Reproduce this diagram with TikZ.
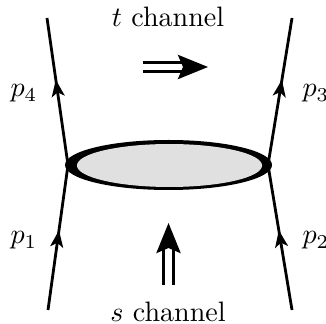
\documentclass[tikz,border=0pt]{standalone}
\usepackage{amsmath}
\usepackage{tikz}
\usetikzlibrary{arrows.meta,shapes.geometric,decorations.markings}
\definecolor{blobgray}{HTML}{E0E0E0}

\begin{document}
\begin{tikzpicture}[x=0.356pt,y=-0.356pt,
  leg/.style={line width=1pt,postaction={decorate},
    decoration={markings,mark=at position #1 with {\arrow{Stealth[length=6pt,width=4.6pt,inset=1.5pt]}}}},
  blob/.style={ellipse,fill=black,inner sep=0pt,minimum width=73.7pt,minimum height=17.8pt},
  core/.style={ellipse,fill=blobgray,inner sep=0pt,minimum width=65.9pt,minimum height=15.3pt},
  chan/.style={line width=1pt,double,double distance=2.4pt,-{Stealth[length=10.7pt,width=8.6pt,inset=1.8pt]}},
  mom/.style={inner sep=0pt}]
\useasboundingbox (0,0) rectangle (326,324);
% external legs
\coordinate (a1) at (48,310);
\coordinate (a2) at (292,310);
\coordinate (a3) at (292,18);
\coordinate (a4) at (47,18);
\coordinate (v1) at (68,165);
\coordinate (v2) at (268,165);
\draw[leg=0.55] (a1) -- (v1);
\draw[leg=0.58] (v1) -- (a4);
\draw[leg=0.55] (a2) -- (v2);
\draw[leg=0.58] (v2) -- (a3);
% amplitude
\node[blob] (amp)   at (168.5,165)   {};
\node[core] (ampin) at (169.5,165.5) {};
% momenta
\node[mom,anchor=base west] (p1) at (10,244)  {$p_1$};
\node[mom,anchor=base west] (p2) at (302,244) {$p_2$};
\node[mom,anchor=base west] (p3) at (302,97)  {$p_3$};
\node[mom,anchor=base west] (p4) at (10,97)   {$p_4$};
% channels
\node[mom,anchor=base] (tlab) at (168,27)  {$t$ channel};
\node[mom,anchor=base] (slab) at (168,321) {$s$ channel};
\coordinate (t0) at (143,67);
\coordinate (t1) at (208,67);
\coordinate (s0) at (168.5,285);
\coordinate (s1) at (168.5,223);
\draw[chan] (t0) -- (t1);
\draw[chan] (s0) -- (s1);
\end{tikzpicture}
\end{document}
